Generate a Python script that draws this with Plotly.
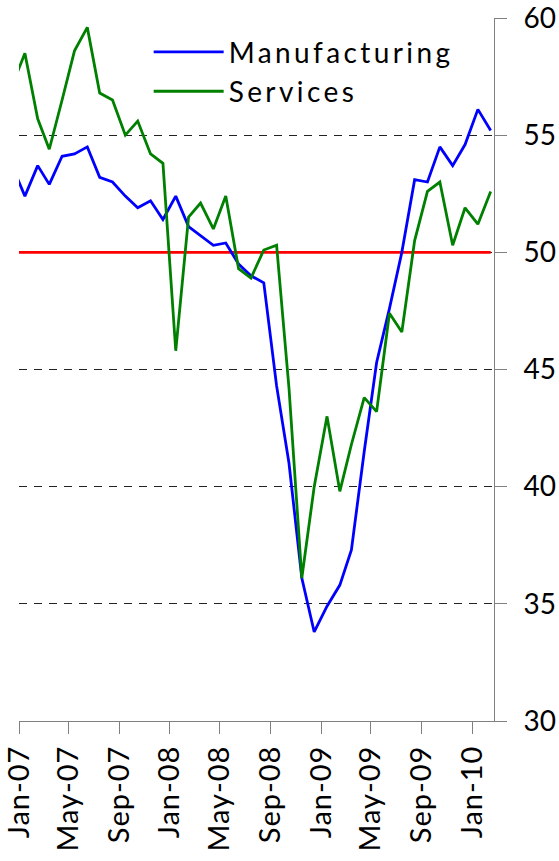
import plotly.graph_objects as go

# Monthly dates (mid-month), Dec-06 .. Feb-10 (Dec-06 falls just left of the axis and is clipped)
months = ["2006-12", "2007-01", "2007-02", "2007-03", "2007-04", "2007-05", "2007-06", "2007-07",
          "2007-08", "2007-09", "2007-10", "2007-11", "2007-12", "2008-01", "2008-02", "2008-03",
          "2008-04", "2008-05", "2008-06", "2008-07", "2008-08", "2008-09", "2008-10", "2008-11",
          "2008-12", "2009-01", "2009-02", "2009-03", "2009-04", "2009-05", "2009-06", "2009-07",
          "2009-08", "2009-09", "2009-10", "2009-11", "2009-12", "2010-01", "2010-02"]

manufacturing = [53.7, 52.4, 53.7, 52.9, 54.1, 54.2, 54.5, 53.2, 53.0, 52.4, 51.9, 52.2, 51.4,
                 52.4, 51.1, 50.7, 50.3, 50.4, 49.5, 49.0, 48.7, 44.3, 41.0, 36.1, 33.8,
                 34.9, 35.8, 37.3, 41.5, 45.3, 47.6, 50.0, 53.1, 53.0, 54.5, 53.7, 54.6,
                 56.1, 55.2]

services = [57.1, 58.5, 55.7, 54.4, 56.5, 58.6, 59.6, 56.8, 56.5, 55.0, 55.6, 54.2, 53.8,
            45.8, 51.5, 52.1, 51.0, 52.4, 49.3, 48.9, 50.1, 50.3, 44.2, 36.1, 40.0,
            43.0, 39.8, 41.8, 43.8, 43.2, 47.4, 46.6, 50.5, 52.6, 53.0, 50.3, 51.9,
            51.2, 52.6]

threshold = 50

tick_dates = ["2007-01-01", "2007-05-01", "2007-09-01", "2008-01-01", "2008-05-01",
              "2008-09-01", "2009-01-01", "2009-05-01", "2009-09-01", "2010-01-01"]
tick_labels = ["Jan-07", "May-07", "Sep-07", "Jan-08", "May-08",
               "Sep-08", "Jan-09", "May-09", "Sep-09", "Jan-10"]

y_ticks = [30, 35, 40, 45, 50, 55, 60]

x_dates = [m + "-15" for m in months]

FONT = "Lato"

fig = go.Figure()
fig.add_trace(go.Scatter(x=x_dates, y=[threshold] * len(x_dates), mode="lines",
                         line=dict(color="#FF0000", width=2.6), showlegend=False,
                         hoverinfo="skip"))
fig.add_trace(go.Scatter(x=x_dates, y=manufacturing, mode="lines", name="Manufacturing",
                         line=dict(color="#0000FF", width=2.8)))
fig.add_trace(go.Scatter(x=x_dates, y=services, mode="lines", name="Services",
                         line=dict(color="#008000", width=2.8)))

fig.update_layout(
    width=559, height=861,
    margin=dict(l=19, r=65, t=18, b=140),
    paper_bgcolor="white", plot_bgcolor="white",
    font=dict(family=FONT, size=29, color="black"),
    showlegend=True,
    legend=dict(x=0.273, y=0.987, xanchor="left", yanchor="top",
                bgcolor="rgba(0,0,0,0)", font=dict(family=FONT, size=28),
                itemwidth=70, tracegroupgap=0),
    xaxis=dict(
        type="date",
        range=["2006-12-31 18:00", "2010-02-23"],
        tickmode="array", tickvals=tick_dates, ticktext=tick_labels,
        tickangle=-90, ticks="outside", ticklen=12, tickcolor="#808080", tickwidth=1,
        showline=True, linecolor="#808080", linewidth=1,
        showgrid=False, zeroline=False, automargin=False,
        ticklabeloverflow="allow",
        tickfont=dict(family=FONT, size=29),
    ),
    yaxis=dict(
        range=[30, 60], side="right",
        tickmode="array", tickvals=y_ticks,
        ticks="outside", ticklen=12, tickcolor="#808080", tickwidth=1,
        showline=True, linecolor="#808080", linewidth=1,
        showgrid=True, gridcolor="#222222", gridwidth=1, griddash="8px,7px",
        zeroline=False, ticklabelstandoff=11, automargin=False,
        ticklabeloverflow="allow",
        tickfont=dict(family=FONT, size=28),
    ),
)

post = """
document.body.style.margin = '0';
document.querySelectorAll('.legend .scrollbox').forEach(function(e){e.removeAttribute('clip-path');});
document.querySelectorAll('.legendtext').forEach(function(e){e.style.letterSpacing='3.4px';});
document.querySelectorAll('.xtick text').forEach(function(e){e.style.letterSpacing='1px';});
"""

fig.write_html("out.html", post_script=post, config={"displayModeBar": False})
